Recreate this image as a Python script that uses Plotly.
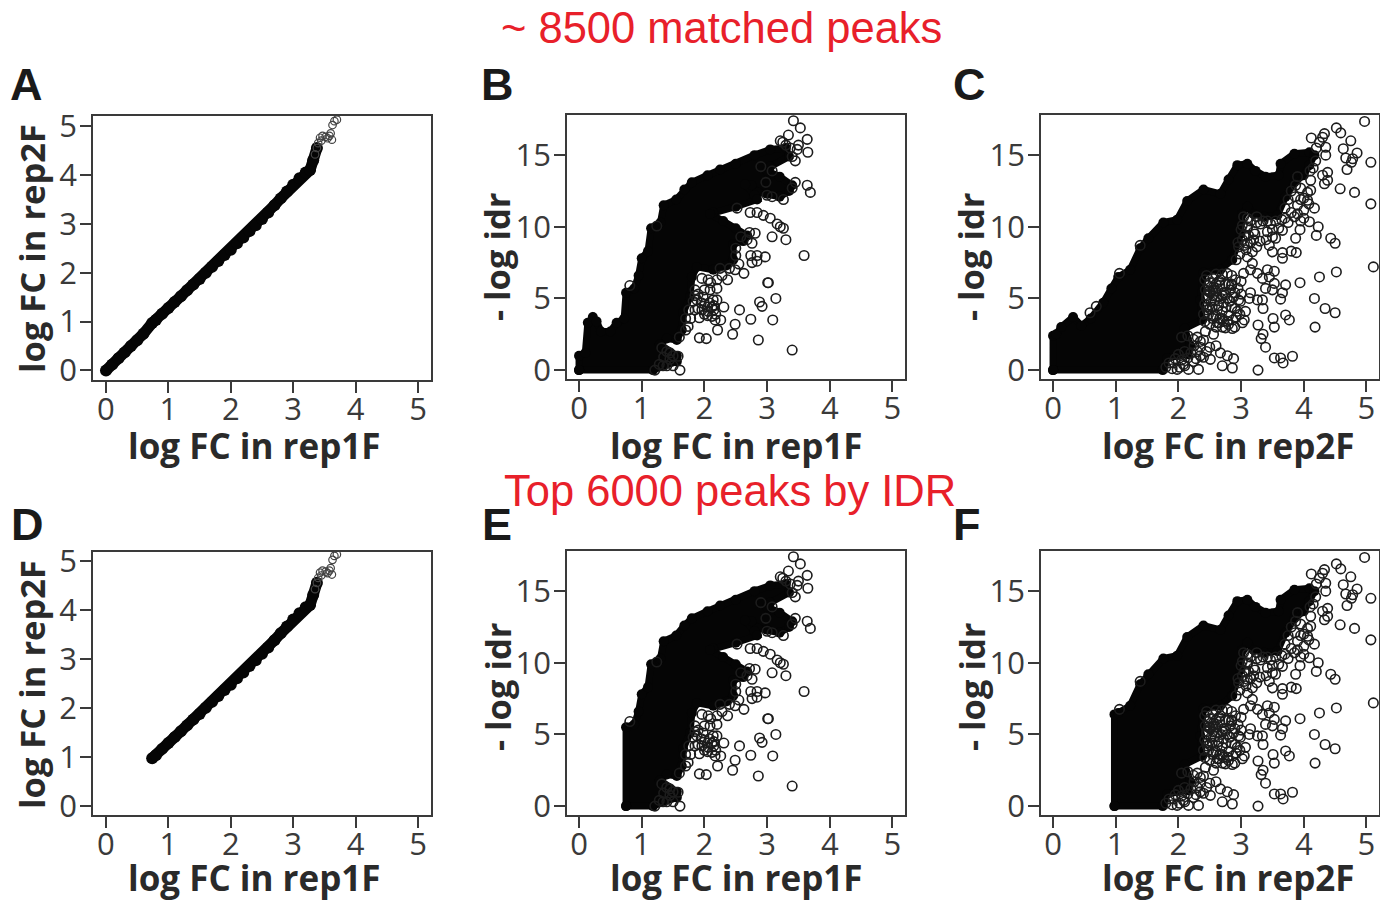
import plotly.graph_objects as go

W, H = 1380, 901
DOT = "#1c1c1c"
INK = "#3a3a3a"

# Panels A / D: log FC rep1F vs rep2F
curve_x = [0.0,0.1,0.2,0.3,0.4,0.5,0.6,0.74,0.8,0.9,1.0,1.1,1.2,1.3,1.4,1.5,1.6,1.7,1.8,1.9,2.0,2.1,2.2,2.3,2.4,2.5,2.6,2.7,2.8,2.9,3.0,3.1,3.2,3.27,3.32,3.38]
curve_y = [0.0,0.12,0.25,0.37,0.5,0.62,0.75,0.97,1.03,1.16,1.28,1.4,1.52,1.64,1.76,1.87,2.0,2.12,2.24,2.36,2.47,2.6,2.72,2.85,2.97,3.1,3.23,3.38,3.52,3.66,3.8,3.93,4.05,4.1,4.3,4.55]
tail_x = [3.35,3.38,3.4,3.43,3.45,3.47,3.52,3.55,3.58,3.6,3.62,3.63,3.66,3.7]
tail_y = [4.42,4.55,4.65,4.76,4.7,4.8,4.78,4.75,4.8,4.85,4.72,5.02,5.1,5.13]

# Panels B / E: solid cloud outline, log FC rep1F vs -log idr
b_left_x = [0.0,0.0,0.1,0.14,0.22,0.28,0.35,0.5,0.6,0.72,0.75,0.88]
b_left_y = [0.0,1.0,1.2,3.3,3.7,3.4,2.7,2.7,3.3,3.6,5.4,5.7]
e_left_x = [0.75,0.75,0.88]
e_left_y = [0.0,5.5,5.7]
b_edge_x = [0.95,1.0,1.1,1.15,1.3,1.35,1.55,1.68,1.8,2.05,2.25,2.5,2.8,3.05,3.3,3.35,3.05,3.0,3.2,3.4,3.35,3.2,3.0,2.85,2.75,2.65,2.8,2.84,2.5,2.14,2.09,2.3,2.5,2.68,2.62,2.46,2.46,2.35,2.14,1.88,1.8,1.77,1.66,1.64,1.56,1.4,1.29,1.56,1.56,1.18]
b_edge_y = [6.6,7.8,8.3,9.9,10.3,11.5,11.9,12.6,13.1,13.6,14.0,14.4,15.0,15.4,15.5,14.9,14.2,13.9,13.5,12.9,12.5,12.1,12.3,12.4,12.9,12.95,12.2,11.9,11.4,11.0,10.9,10.4,9.9,9.4,9.0,8.8,7.7,7.3,7.0,7.2,6.5,5.1,4.0,2.8,2.1,2.2,1.8,1.0,0.6,0.0]
# Panels B / E: individually resolved points
b_pts_x = [3.42,3.53,3.34,3.64,3.21,3.65,3.48,3.4,3.45,3.64,3.69,3.4,3.26,3.08,3.0,3.08,3.26,3.3,3.08,3.59,2.97,2.84,2.74,2.76,2.84,3.02,3.01,3.14,2.88,2.92,2.56,2.31,2.74,3.09,2.49,2.45,2.86,3.4,2.21,1.92,2.03,1.92,2.26,2.17,2.37,2.63,2.49,2.28,2.06,1.96,2.09,2.2,1.88,2.14,2.2,1.98,1.96,2.06,2.12,1.82,1.74,2.76,2.81,2.68,2.73,2.84,2.94,3.05,3.16,3.21,2.52,1.61,1.58,1.45,1.34,1.21,1.5,1.32,1.45,0.81,1.24,3.3,3.37,3.25,3.5,3.45,2.9,2.98,2.15,2.05,2.0,1.9,1.85,1.85,1.9,1.95,2.0,2.08,2.12,2.15,2.18,2.05,2.0,1.85,1.78,1.75,2.1,2.2,2.25,2.4,2.55,2.5,2.5,2.58,2.72,1.35,1.4,1.28,1.5,1.4,1.6,1.7,1.7]
b_pts_y = [17.4,16.9,16.4,16.1,16.0,15.2,15.4,14.9,13.1,12.9,12.4,12.7,11.9,12.1,12.2,13.9,9.9,9.1,9.3,8.0,7.9,8.0,8.0,7.5,7.6,6.1,6.1,5.0,4.75,4.45,4.2,4.4,3.55,3.5,3.2,2.5,2.1,1.4,2.8,2.25,2.2,3.65,3.5,3.5,6.3,6.75,7.0,6.6,6.3,6.4,5.6,5.7,4.9,4.9,4.9,5.1,4.2,4.1,3.75,4.8,3.05,8.85,9.55,9.1,11.0,11.0,10.8,10.6,10.2,10.0,11.3,0.0,0.97,0.75,0.3,0.0,0.3,1.55,1.2,5.9,10.05,15.7,15.5,15.9,15.7,14.6,14.2,13.1,4.5,4.4,3.9,4.3,5.2,5.6,5.3,4.7,4.6,4.7,4.4,4.2,3.9,3.8,5.6,4.2,3.6,4.2,6.1,6.3,7.1,7.1,7.4,8.0,8.5,9.3,9.6,0.9,0.3,0.4,1.0,1.3,2.3,2.8,3.6]

# Panels C / F: solid cloud outline, log FC rep2F vs -log idr
c_left_x = [0.0,0.0,0.05,0.13,0.32,0.45,0.6,0.8,0.93,1.04]
c_left_y = [0.0,2.4,2.5,3.0,3.7,3.1,3.6,4.7,5.7,6.5]
f_left_x = [0.98,0.98,1.04]
f_left_y = [0.0,6.4,6.5]
c_edge_x = [1.23,1.39,1.52,1.76,1.98,2.14,2.4,2.67,2.8,2.94,3.1,3.23,3.39,3.6,3.63,3.85,4.09,4.17,4.09,4.0,3.85,3.71,3.58,3.37,3.2,3.1,3.02,2.99,2.86,2.67,2.4,2.35,2.38,2.1,2.19,2.14,1.82,1.75]
c_edge_y = [7.0,8.5,9.2,10.3,10.5,11.8,12.6,12.3,13.3,14.3,14.4,13.9,13.5,13.6,14.4,15.1,15.2,15.0,14.3,13.6,13.1,12.1,10.8,10.7,10.9,11.4,10.9,9.5,7.7,7.0,6.8,4.9,3.5,2.9,1.7,1.1,0.85,0.0]
# Panels C / F: individually resolved points
c_pts_x = [4.97,4.52,4.59,4.33,4.12,4.75,4.3,4.63,4.85,4.67,4.78,5.07,4.76,4.69,4.35,4.35,4.19,4.38,4.3,4.38,4.33,4.58,4.81,5.07,4.11,4.06,4.11,3.87,3.86,4.06,4.17,4.0,3.85,4.0,4.09,4.23,4.2,3.94,3.87,3.66,3.5,3.42,4.43,4.5,3.8,3.88,3.66,3.5,3.66,3.45,3.18,4.52,4.25,3.94,5.11,4.17,4.34,4.5,4.18,3.71,3.63,3.66,3.35,3.51,3.53,3.71,3.77,3.27,3.35,3.32,3.39,3.82,3.53,3.63,3.67,3.27,2.88,2.78,2.7,2.86,2.43,2.56,2.6,2.67,2.32,2.16,1.98,2.51,2.35,2.24,2.35,1.92,2.08,2.24,3.18,3.15,3.26,3.42,3.53,3.45,3.34,3.53,3.5,3.39,3.15,3.13,3.26,3.34,3.04,2.99,3.07,2.94,3.02,2.86,2.75,2.78,2.72,2.75,2.56,2.67,2.91,2.78,2.62,2.46,2.56,2.51,2.83,2.96,3.04,3.1,3.02,3.2,3.2,3.31,3.47,3.1,2.96,1.39,1.06,0.59,0.69,2.62,2.7,2.8,2.9,3.05,2.45,2.5,2.6,2.7,2.85,2.42,2.48,2.55,2.6,2.66,2.72,2.8,2.85,2.45,2.52,2.58,2.64,2.7,2.76,2.82,2.88,2.42,2.48,2.54,2.6,2.66,2.72,2.8,2.87,2.92,2.98,3.05,3.1,3.15,3.25,3.35,3.42,3.55,3.6,3.5,3.15,3.02,3.08,3.22,3.3,1.8,1.85,1.9,1.95,2.02,2.05,2.1,2.15,2.2,2.28,2.3,2.4,2.45,2.5,2.1,2.0,2.25,2.35,2.3,2.4,2.15,2.05,3.9,3.95,3.8,3.75,3.9,3.95,3.7,3.8,3.9,4.0,4.08,3.95,4.1,4.15,4.2,4.25,2.45,2.5,2.55,2.6,2.65,2.7,2.75,2.85,2.9,2.95,3.0,3.0,2.43,2.48,2.55,2.62,2.68,2.78,2.85,2.9,2.45,2.5,2.55,2.65,2.4,2.42,2.5,2.6,2.7,2.92,2.98,3.05,2.95,3.1,3.12,3.25,3.0,3.1,3.25,3.4,3.55,3.7,3.75,3.65]
c_pts_y = [17.35,16.9,16.55,16.5,16.2,16.0,16.25,15.45,15.15,14.8,14.75,14.5,14.5,14.0,15.55,15.0,14.6,13.8,13.6,13.25,13.0,12.65,12.4,11.6,13.25,12.4,12.55,12.9,12.1,11.85,11.3,11.15,10.7,10.6,10.35,10.0,9.4,9.8,9.2,9.75,9.3,9.65,9.2,8.85,8.3,8.2,8.2,8.25,7.8,8.7,8.25,6.85,6.5,6.1,7.2,5.0,4.3,4.0,3.0,5.95,4.95,5.4,4.3,3.6,3.0,3.85,3.5,3.15,2.5,2.2,1.6,0.97,0.85,0.85,0.5,0.0,0.8,1.0,0.3,0.15,2.7,2.5,1.7,1.2,0.05,0.05,0.05,0.75,1.0,2.15,2.0,0.5,0.4,0.6,7.45,7.0,6.75,7.0,6.9,6.5,6.4,6.05,5.6,5.7,5.4,5.0,4.9,4.9,6.75,4.8,4.1,4.1,3.3,2.9,2.95,3.4,4.7,5.25,5.8,6.3,6.3,6.75,4.2,4.2,3.75,5.4,5.6,4.9,10.7,10.0,10.1,9.65,9.1,10.2,10.2,8.85,8.6,8.7,6.75,4.0,4.45,3.3,3.6,3.2,3.0,3.5,5.0,5.5,6.0,5.2,5.9,6.3,5.9,6.4,5.5,5.9,5.4,6.0,6.6,5.2,4.8,4.9,4.5,4.1,4.4,4.8,5.1,4.6,3.9,4.4,3.8,3.6,3.4,3.8,3.5,3.7,3.9,9.4,9.9,10.4,10.3,10.4,10.4,10.4,9.9,9.8,8.9,9.1,8.4,9.5,9.0,0.2,0.5,0.1,0.8,0.2,0.7,0.3,0.85,1.2,0.8,1.3,0.9,1.3,1.6,1.3,1.1,1.7,1.6,2.3,2.1,2.4,2.3,13.5,12.7,12.5,11.9,11.5,11.9,11.3,11.0,10.9,12.0,11.6,10.4,13.9,14.1,15.5,15.9,6.6,6.1,5.6,6.7,6.2,6.7,6.0,6.0,5.4,5.7,6.2,5.3,5.6,5.5,5.2,5.1,5.0,5.0,4.4,4.3,4.4,4.3,3.6,3.3,3.9,3.4,3.2,3.0,3.0,7.7,8.1,8.7,8.9,7.9,9.4,8.6,9.8,10.6,10.7,9.1,9.2,10.6,10.3,10.5]

x_ticks = [0,1,2,3,4,5]
fc_y_ticks = [0,1,2,3,4,5]
idr_y_ticks = [0,5,10,15]

TITLE1 = "~ 8500 matched peaks"
TITLE2 = "Top 6000 peaks by IDR"
XT_1 = "log FC in rep1F"
XT_2 = "log FC in rep2F"
YT_FC = "log FC in rep2F"
YT_IDR = "- log idr"

fig = go.Figure()

def axes(i, box, xr, yr, yt):
    l, t, r, b = box
    ax = dict(showgrid=False, zeroline=False, showline=True, mirror=True, linecolor="#3a3a3a",
              linewidth=1.6, ticks="outside", ticklen=11, tickwidth=1.6, tickcolor="#3a3a3a",
              tickfont=dict(family="Open Sans", size=31, color=INK))
    fig.update_layout({
        f"xaxis{i}": dict(ax, domain=[l/W, r/W], range=xr, tickvals=x_ticks, anchor=f"y{i}", ticklabelstandoff=-10),
        f"yaxis{i}": dict(ax, domain=[1-b/H, 1-t/H], range=yr, tickvals=yt, anchor=f"x{i}", ticklabelstandoff=-3),
    })

def scatter_panel(i, ex, ey, px, py):
    fig.add_trace(go.Scatter(x=ex + ex[:1], y=ey + ey[:1], mode="lines+markers", fill="toself",
                             fillcolor="#050505", line=dict(color="#050505", width=7),
                             marker=dict(size=10, color="#050505"),
                             xaxis=f"x{i}", yaxis=f"y{i}", showlegend=False))
    fig.add_trace(go.Scatter(x=px, y=py, mode="markers",
                             marker=dict(symbol="circle-open", size=9.5, color=DOT, line=dict(width=1.6, color=DOT)),
                             xaxis=f"x{i}", yaxis=f"y{i}", showlegend=False))

def line_panel(i, cx, cy):
    fig.add_trace(go.Scatter(x=cx, y=cy, mode="lines+markers", line=dict(color="#050505", width=11),
                             marker=dict(size=12, color="#050505"),
                             xaxis=f"x{i}", yaxis=f"y{i}", showlegend=False))
    fig.add_trace(go.Scatter(x=tail_x, y=tail_y, mode="markers",
                             marker=dict(symbol="circle-open", size=7.5, color="#444444", line=dict(width=1.2, color="#444444")),
                             xaxis=f"x{i}", yaxis=f"y{i}", showlegend=False))

FC_X = [-0.208, 5.208]
FC_Y1 = [-0.195, 5.205]
FC_Y2 = [-0.19, 5.18]
ID_X = [-0.192, 5.2]
ID_Y = [-0.62, 17.8]

axes(1, (93, 116, 431, 380), FC_X, FC_Y1, fc_y_ticks)
axes(2, (567, 115, 905, 379), ID_X, ID_Y, idr_y_ticks)
axes(3, (1041, 115, 1379, 379), ID_X, ID_Y, idr_y_ticks)
axes(4, (93, 552, 431, 815), FC_X, FC_Y2, fc_y_ticks)
axes(5, (567, 551, 905, 815), ID_X, ID_Y, idr_y_ticks)
axes(6, (1041, 551, 1379, 815), ID_X, ID_Y, idr_y_ticks)

line_panel(1, curve_x, curve_y)
scatter_panel(2, b_left_x + b_edge_x, b_left_y + b_edge_y, b_pts_x, b_pts_y)
scatter_panel(3, c_left_x + c_edge_x, c_left_y + c_edge_y, c_pts_x, c_pts_y)
line_panel(4, curve_x[7:], curve_y[7:])
scatter_panel(5, e_left_x + b_edge_x, e_left_y + b_edge_y, b_pts_x, b_pts_y)
f_keep = [k for k, v in enumerate(c_pts_x) if v >= 1.0]
scatter_panel(6, f_left_x + c_edge_x, f_left_y + c_edge_y, [c_pts_x[k] for k in f_keep], [c_pts_y[k] for k in f_keep])

def note(text, px, py, size, family, color="#222222", angle=0, bold=False):
    fig.add_annotation(text=f"<b>{text}</b>" if bold else text,
                       x=px/W, y=1-py/H, xref="paper", yref="paper",
                       xanchor="center", yanchor="middle", showarrow=False, textangle=angle,
                       font=dict(family=family, size=size, color=color))

RED = "#e8202a"
note(TITLE1, 721, 28, 43.5, "Liberation Sans", RED)
note(TITLE2, 730, 491, 43.5, "Liberation Sans", RED)
for txt, px, py in [("A",26,85),("B",497,85),("C",969,85),("D",27,524),("E",497,524),("F",967,524)]:
    note(txt, px, py, 45, "Liberation Sans", "#1a1a1a", bold=True)
for txt, px, py in [(XT_1,255,446),(XT_1,736,446),(XT_2,1228,446),(XT_1,255,877),(XT_1,736,877),(XT_2,1228,877)]:
    note(txt, px, py, 35, "Open Sans", "#2a2a2a", bold=True)
for txt, px, py in [(YT_FC,31,249),(YT_FC,31,685),(YT_IDR,497,257),(YT_IDR,497,687),(YT_IDR,971,257),(YT_IDR,971,687)]:
    note(txt, px, py, 34.5, "Open Sans", "#2a2a2a", angle=-90, bold=True)

fig.update_layout(width=W, height=H, margin=dict(l=0, r=0, t=0, b=0, autoexpand=False), paper_bgcolor="white",
                  plot_bgcolor="white", showlegend=False)
fig.write_html("out.html", config=dict(displayModeBar=False),
               post_script="document.body.style.margin='0';document.documentElement.style.overflow='hidden';")
